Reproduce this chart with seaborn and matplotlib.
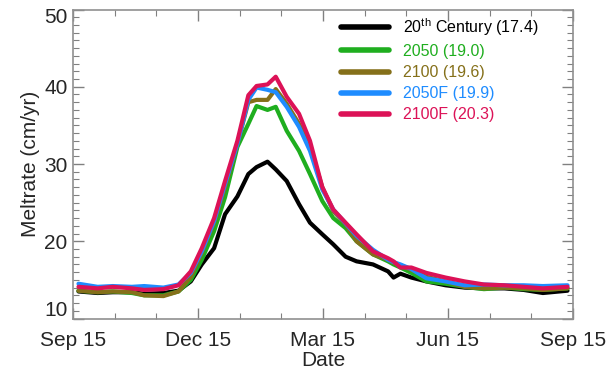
import numpy as np
import pandas as pd
import matplotlib
matplotlib.use('Agg')
import matplotlib.pyplot as plt
import matplotlib.transforms as mtransforms
import seaborn as sns

# days after Sep 15
days = [4, 18, 29, 43, 52, 66, 77, 86, 94, 103, 111, 120, 128, 134, 142, 148,
        156, 165, 173, 182, 190, 199, 207, 219, 230, 234, 239, 247, 258, 272,
        286, 300, 315, 329, 343, 361]

c20 = [13.5, 13.3, 13.4, 13.4, 13.2, 13.3, 13.6, 14.8, 17.0, 19.1, 23.5, 25.8,
       28.7, 29.6, 30.3, 29.3, 27.8, 24.8, 22.4, 20.9, 19.6, 18.0, 17.4, 17.0,
       16.1, 15.3, 15.8, 15.3, 14.8, 14.3, 14.0, 13.9, 13.9, 13.7, 13.3, 13.6]
s2050 = [13.6, 13.4, 13.5, 13.3, 13.0, 13.0, 13.5, 15.0, 17.6, 21.3, 25.7, 32.2,
         35.2, 37.5, 37.0, 37.4, 34.3, 31.7, 28.7, 25.2, 23.0, 21.7, 20.0, 18.3,
         17.4, 17.0, 16.6, 15.9, 14.8, 14.5, 14.1, 13.8, 14.0, 13.8, 13.7, 13.9]
s2100 = [13.6, 13.4, 13.5, 13.4, 13.0, 12.9, 13.5, 15.4, 18.5, 22.4, 27.0, 32.6,
         38.0, 38.3, 38.3, 39.7, 37.8, 35.2, 32.2, 27.0, 23.9, 22.2, 20.0, 18.3,
         17.6, 17.2, 16.9, 16.3, 15.4, 14.8, 14.1, 13.9, 14.0, 13.9, 13.7, 13.9]
s2050f = [14.5, 14.1, 14.2, 14.1, 14.2, 14.0, 14.4, 15.9, 18.7, 22.6, 27.4, 32.6,
          38.3, 39.9, 39.6, 39.3, 37.4, 34.8, 31.7, 26.7, 24.1, 22.3, 20.7, 18.9,
          17.6, 17.3, 17.0, 16.4, 15.2, 14.8, 14.3, 14.4, 14.3, 14.3, 14.2, 14.3]
s2100f = [14.1, 13.9, 14.1, 13.9, 13.7, 13.8, 14.3, 16.1, 19.1, 23.0, 27.8, 33.0,
          38.9, 40.1, 40.3, 41.3, 38.7, 36.5, 33.0, 27.0, 24.1, 22.4, 20.9, 18.7,
          17.8, 17.4, 16.6, 16.6, 15.9, 15.3, 14.8, 14.4, 14.3, 14.1, 13.9, 14.1]

labels = ['20$^{th}$ Century (17.4)', '2050 (19.0)', '2100 (19.6)',
          '2050F (19.9)', '2100F (20.3)']
colors = ['#000000', '#1fae1f', '#85701a', '#1e8cff', '#dc1257']
xtick_labels = ['Sep 15', 'Dec 15', 'Mar 15', 'Jun 15', 'Sep 15']

df = pd.concat([pd.DataFrame({'day': days, 'melt': v, 'run': lab})
                for v, lab in zip([c20, s2050, s2100, s2050f, s2100f], labels)])

sns.set_style('ticks')
plt.rcParams['font.family'] = ['Liberation Sans', 'DejaVu Sans']
plt.rcParams['mathtext.default'] = 'regular'

fig = plt.figure(figsize=(6.09, 3.75), dpi=100)
ax = fig.add_axes([73/609, 1-318.5/375, 500/609, 309/375])

sns.lineplot(data=df, x='day', y='melt', hue='run', hue_order=labels,
             palette=colors, linewidth=3, ax=ax, sort=False, estimator=None)

ax.set_xlim(0, 365)
ax.set_ylim(10, 50)
ax.set_xticks(np.linspace(0, 365, 5))
ax.set_xticklabels(xtick_labels)
ax.set_xticks(np.linspace(0, 365, 13), minor=True)
ax.set_yticks([10, 20, 30, 40, 50])
ax.set_yticks(np.arange(10, 51, 1), minor=True)
ax.tick_params(which='both', direction='in', top=True, right=True,
               color='#808080', labelsize=15)
ax.tick_params(axis='x', pad=9)
ax.tick_params(axis='y', pad=4)
ax.tick_params(which='major', length=8, width=1)
ax.tick_params(which='minor', length=4, width=0.8)
for s in ax.spines.values():
    s.set_color('#909090')
    s.set_linewidth(1.2)

# keep the end labels inside the axis span, like the original
ylabs = ax.get_yticklabels()
ylabs[0].set_transform(ylabs[0].get_transform() +
                       mtransforms.ScaledTranslation(0, 10/100, fig.dpi_scale_trans))
ylabs[-1].set_transform(ylabs[-1].get_transform() +
                        mtransforms.ScaledTranslation(0, -6/100, fig.dpi_scale_trans))

ax.set_xlabel('Date', fontsize=15, labelpad=1)
ax.set_ylabel('Meltrate (cm/yr)', fontsize=15, labelpad=3)

ax.legend(loc='upper left', bbox_to_anchor=(0.536, 0.978), frameon=False,
          labelcolor='linecolor', fontsize=11.5, handlelength=3.0,
          handletextpad=0.9, labelspacing=0.38, borderpad=0, borderaxespad=0)
for ln in ax.get_legend().get_lines():
    ln.set_linewidth(4)

fig.savefig('out.png', dpi=100)
